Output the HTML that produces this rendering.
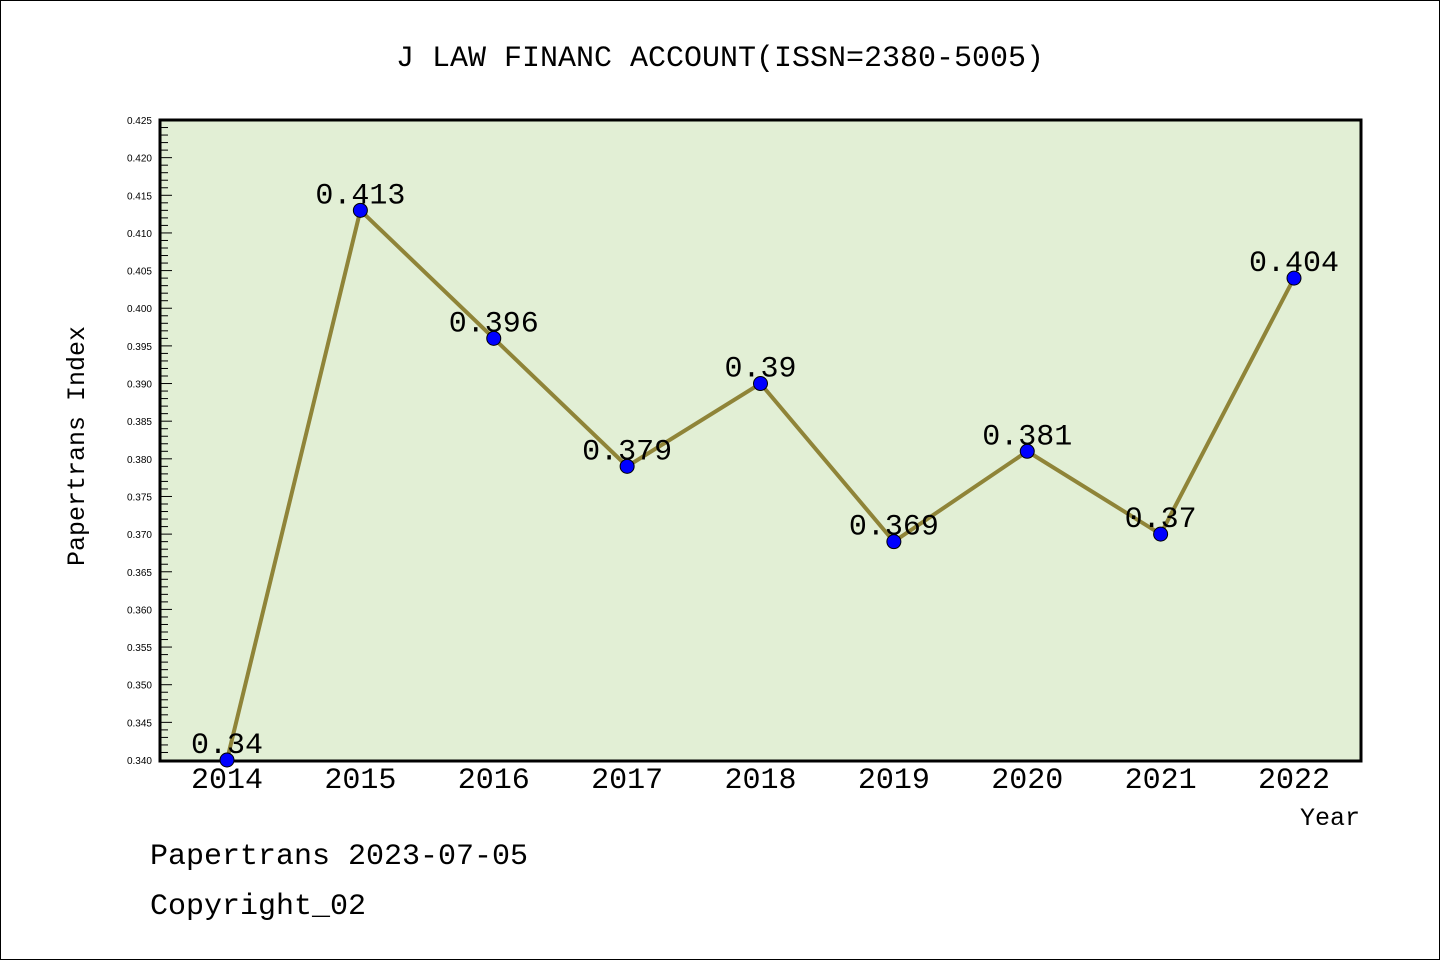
<!DOCTYPE html>
<html><head><meta charset="utf-8"><style>
html,body{margin:0;padding:0;background:#fff}
svg{display:block}
text{font-family:"Liberation Mono","Noto Sans CJK SC",monospace;fill:#000}
.tk{font-family:"Liberation Sans",sans-serif;font-size:10px}
</style></head><body>
<svg width="1440" height="960" viewBox="0 0 1440 960">
<rect x="0.5" y="0.5" width="1439" height="959" fill="#fff" stroke="#000"/>
<text x="720" y="66" font-size="30" text-anchor="middle">J LAW FINANC ACCOUNT(ISSN=2380-5005)</text>
<rect x="160" y="120" width="1201" height="641" fill="#e2efd5" stroke="#000" stroke-width="3"/>
<g id="yticks"></g>
<g id="xlabels"></g>
<polyline id="line" fill="none" stroke="#8f8438" stroke-width="4"/>
<g id="points"></g>
<text transform="translate(84,446) rotate(-90)" font-size="25" text-anchor="middle">Papertrans Index</text>
<text x="1360" y="825" font-size="25" text-anchor="end">Year</text>
<text x="150" y="864" font-size="30">Papertrans 2023-07-05</text>
<text x="150" y="914" font-size="30">Copyright_02</text>
</svg>
<script>
const years=["2014","2015","2016","2017","2018","2019","2020","2021","2022"];
const values=[0.34,0.413,0.396,0.379,0.39,0.369,0.381,0.37,0.404];
const valueLabels=["0.34","0.413","0.396","0.379","0.39","0.369","0.381","0.37","0.404"];
const yMin=0.340,yMax=0.425;
const NS="http://www.w3.org/2000/svg";
function y(v){return 760-(v-yMin)/(yMax-yMin)*640;}
function x(i){return 227+i*(1294-227)/(years.length-1);}
const yt=document.getElementById('yticks');
for(let k=0;k<=85;k++){
  const v=yMin+k*0.001, yy=y(v), major=k%5===0;
  const l=document.createElementNS(NS,'line');
  
  
  l.setAttribute('x1',160);l.setAttribute('x2',major?172:168);
  l.setAttribute('y1',yy);l.setAttribute('y2',yy);
  l.setAttribute('stroke','#000');l.setAttribute('stroke-width',1);
  yt.appendChild(l);
  if(major){
    const t=document.createElementNS(NS,'text');
    
    
    t.setAttribute('class','tk');t.setAttribute('x',152);t.setAttribute('y',yy+4);
    t.setAttribute('text-anchor','end');t.textContent=v.toFixed(3);
    yt.appendChild(t);
  }
}
const xl=document.getElementById('xlabels');
years.forEach((yr,i)=>{
  const t=document.createElementNS(NS,'text');
  
  
  t.setAttribute('x',x(i));t.setAttribute('y',788);t.setAttribute('font-size',30);
  t.setAttribute('text-anchor','middle');t.textContent=yr;xl.appendChild(t);
});
document.getElementById('line').setAttribute('points',values.map((v,i)=>x(i)+','+y(v)).join(' '));
const pg=document.getElementById('points');
values.forEach((v,i)=>{
  const c=document.createElementNS(NS,'circle');
  
  
  c.setAttribute('cx',x(i));c.setAttribute('cy',y(v));c.setAttribute('r',7);
  c.setAttribute('fill','#0000ff');c.setAttribute('stroke','#000');c.setAttribute('stroke-width',1);
  pg.appendChild(c);
  const t=document.createElementNS(NS,'text');
  
  
  t.setAttribute('x',x(i));t.setAttribute('y',y(v)-7);t.setAttribute('font-size',30);
  t.setAttribute('text-anchor','middle');t.textContent=valueLabels[i];
  pg.appendChild(t);
});
</script>
</body></html>
